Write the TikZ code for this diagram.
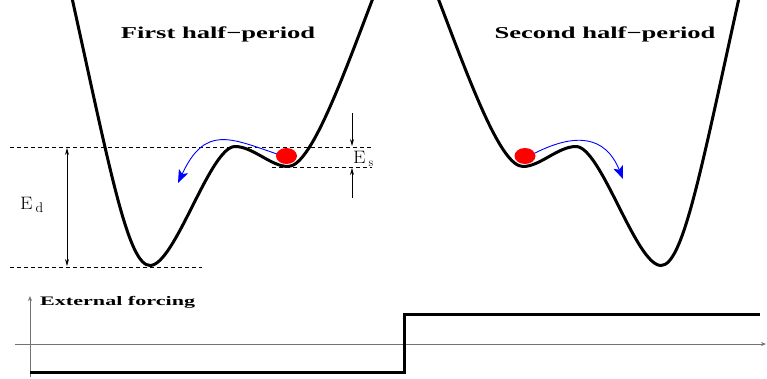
\documentclass[tikz,border=0pt]{standalone}
\usepackage{fontspec}
\usepackage{graphicx}
\newfontfamily\titlefont{Liberation Serif}
\usetikzlibrary{arrows.meta}
\begin{document}
\begin{tikzpicture}[x=1pt,y=-1pt,
  pot/.style={line width=3pt, line join=round},
  lvl/.style={dash pattern=on 4pt off 3pt, line width=0.7pt},
  dimarr/.style={line width=0.8pt, -{Stealth[length=7pt,width=4pt]}},
  hop/.style={blue, line width=0.9pt, -{Stealth[length=13pt,width=10pt,inset=3pt]}},
  ax/.style={black!55, line width=1pt, -{Stealth[length=5pt,width=4pt]}},
  force/.style={line width=3pt, line join=miter},
  ttl/.style={anchor=base, inner sep=0pt, font=\titlefont\bfseries\fontsize{16.6}{18}\selectfont},
  lab/.style={anchor=base west, inner sep=0pt, font=\fontsize{18}{20}\selectfont}]
\useasboundingbox (0,0) rectangle (767,378);

% potentials
\newcommand\potcurve{(72,-2) .. controls (110,170) and (128,265.5) .. (150,265.5)
  .. controls (175,265.5) and (210,146.5) .. (235,146.5)
  .. controls (253,146.5) and (271,166.5) .. (288,166.5)
  .. controls (310,166.5) and (340,85) .. (373,-2)}
\draw[pot] \potcurve;
\begin{scope}[xshift=811pt, xscale=-1]
\draw[pot] \potcurve;
\end{scope}

% titles
\node[ttl] (t1) at (218,38) {\scalebox{1.6}[1]{First half−period}};
\node[ttl] (t2) at (605,38) {\scalebox{1.6}[1]{Second half−period}};

% levels
\draw[lvl] (10,147) -- (372,147);
\draw[lvl] (10,267) -- (202,267);
\draw[lvl] (272,167) -- (372,167);

% E_d
\coordinate (edtop) at (67,148);
\coordinate (edbot) at (67,266);
\draw[line width=0.8pt, {Stealth[length=7pt,width=4pt]}-{Stealth[length=7pt,width=4pt]}] (edtop) -- (edbot);
\node[lab] (ed) at (20,209) {\scalebox{1.1}[1]{E}\,\raisebox{-3pt}{\fontsize{14}{15}\selectfont d}};

% E_s
\coordinate (es1a) at (352,113);
\coordinate (es1b) at (352,146);
\coordinate (es2a) at (352,198);
\coordinate (es2b) at (352,168);
\draw[dimarr] (es1a) -- (es1b);
\draw[dimarr] (es2a) -- (es2b);
\node[lab] (es) at (353,163) {\scalebox{1.1}[1]{E}\,\raisebox{-3pt}{\fontsize{12}{13}\selectfont s}};

% balls
\fill[red] (286.5,156) ellipse [x radius=10.5, y radius=8];
\fill[red] (525,156) ellipse [x radius=10.5, y radius=8];

% hops
\coordinate (h1s) at (277,154);
\coordinate (h1e) at (178,183);
\draw[hop] (h1s) .. controls (230,138) and (205,125) .. (h1e);
\coordinate (h2s) at (535,153);
\coordinate (h2e) at (623,179);
\draw[hop] (h2s) .. controls (575,133) and (605,135) .. (h2e);

% forcing
\coordinate (xa) at (15,344);
\coordinate (xb) at (766,344);
\coordinate (ya) at (30,377);
\coordinate (yb) at (30,296);
\draw[ax] (xa) -- (xb);
\draw[ax] (ya) -- (yb);
\node[anchor=base west, inner sep=0pt, font=\titlefont\bfseries\fontsize{13}{15}\selectfont] (ef) at (40,305) {\scalebox{1.7}[1]{External forcing}};
\draw[force] (30,372.5) -- (404,372.5) -- (404,314) -- (760,314);
\end{tikzpicture}
\end{document}
